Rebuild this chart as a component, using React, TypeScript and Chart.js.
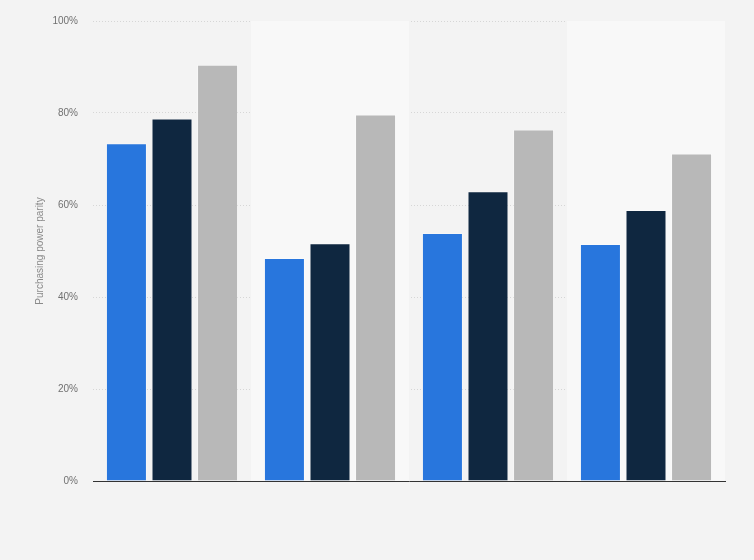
import React, { useEffect, useRef } from 'react';
import Chart from 'chart.js/auto';

const categories = ['Group 1', 'Group 2', 'Group 3', 'Group 4'];
const seriesA = [73.4, 48.5, 53.9, 51.5];
const seriesB = [78.8, 51.7, 63.0, 58.9];
const seriesC = [90.5, 79.7, 76.4, 71.2];
const yTicks = [0, 20, 40, 60, 80, 100];

const bandPlugin = {
  id: 'bands',
  beforeDatasetsDraw(chart: any) {
    const { ctx, chartArea, scales } = chart;
    const x = scales.x;
    const step = (chartArea.right - chartArea.left) / categories.length;
    ctx.save();
    categories.forEach((_, i) => {
      if (i % 2 === 1) {
        const cx = x.getPixelForValue(i);
        ctx.fillStyle = '#f8f8f8';
        ctx.fillRect(cx - step / 2, chartArea.top, step, chartArea.bottom - chartArea.top);
      }
    });
    ctx.restore();
  },
  beforeDraw(chart: any) {
    const { ctx, width, height } = chart;
    ctx.save();
    ctx.fillStyle = '#f3f3f3';
    ctx.fillRect(0, 0, width, height);
    ctx.restore();
  },
};

const App: React.FC = () => {
  const canvasRef = useRef<HTMLCanvasElement>(null);

  useEffect(() => {
    document.body.style.margin = '0';
    if (!canvasRef.current) return;
    const ctx = canvasRef.current.getContext('2d');
    if (!ctx) return;

    const chart = new Chart(ctx, {
      type: 'bar',
      data: {
        labels: categories,
        datasets: [
          { data: seriesA, backgroundColor: '#2876dd' },
          { data: seriesB, backgroundColor: '#0f2740' },
          { data: seriesC, backgroundColor: '#b8b8b8' },
        ],
      },
      options: {
        animation: false,
        responsive: false,
        maintainAspectRatio: false,
        layout: { padding: { left: 0, right: 29, top: 20, bottom: 79 } },
        datasets: {
          bar: {
            categoryPercentage: 0.865,
            barPercentage: 0.9,
            borderWidth: 1,
            borderColor: 'rgba(255,255,255,0.3)',
          },
        },
        plugins: {
          legend: { display: false },
          title: { display: false },
          tooltip: { enabled: false },
        },
        scales: {
          x: {
            ticks: { display: false },
            grid: { display: false },
            border: { display: true, color: '#333333', width: 1 },
            afterFit: (scale: any) => {
              scale.height = 0;
            },
          },
          y: {
            min: 0,
            max: 100,
            afterBuildTicks: (scale: any) => {
              scale.ticks = yTicks.map((v) => ({ value: v }));
            },
            ticks: {
              padding: 15,
              color: '#707070',
              font: { family: 'Arial, "Liberation Sans", sans-serif', size: 10 },
              callback: (v: any) => `${v}%`,
            },
            grid: {
              drawTicks: false,
              color: (c: any) => (c.tick && c.tick.value === 0 ? 'rgba(0,0,0,0)' : '#d6d6d6'),
              lineWidth: 1,
            },
            border: { display: false, dash: [1, 2] },
            title: {
              display: true,
              text: 'Purchasing power parity',
              color: '#8a8a8a',
              font: { family: 'Arial, "Liberation Sans", sans-serif', size: 10 },
              padding: { top: 34, bottom: 0 },
            },
            afterFit: (scale: any) => {
              scale.width = 93;
            },
          },
        },
      },
      plugins: [bandPlugin],
    });

    return () => {
      chart.destroy();
    };
  }, []);

  return (
    <div style={{ width: 754, height: 560, background: '#f3f3f3' }}>
      <canvas ref={canvasRef} width={754} height={560} style={{ width: 754, height: 560 }} />
    </div>
  );
};

export default App;
